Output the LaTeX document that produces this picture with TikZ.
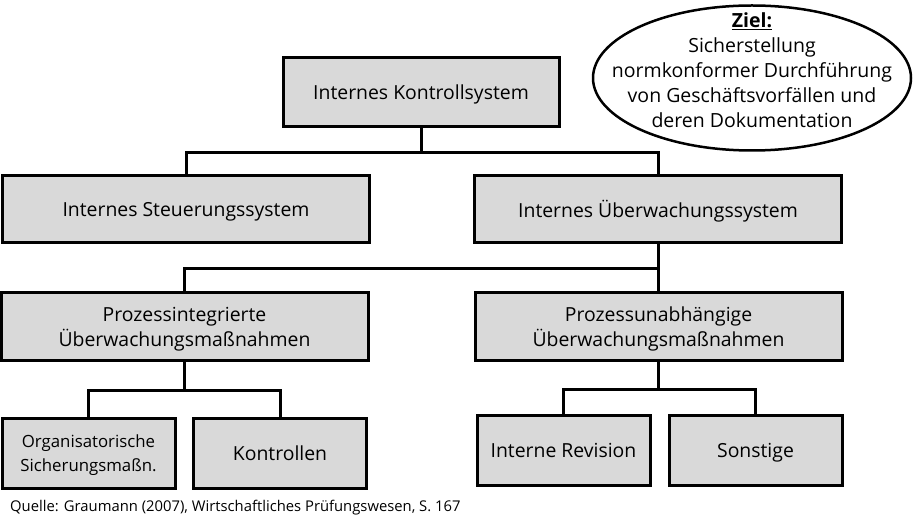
\documentclass[tikz,border=0pt]{standalone}
\usepackage{fontspec}
\setmainfont{Open Sans}
\usetikzlibrary{shapes.geometric}

\definecolor{boxgray}{HTML}{D9D9D9}
\tikzset{
  ebox/.style={draw, line width=3pt, fill=boxgray, align=center, inner sep=0pt,
    text depth=0pt, font=\fontsize{19.4}{25}\selectfont},
  wbox/.style={ebox, minimum width=367pt, minimum height=67pt},
  sbox/.style={ebox, minimum width=173pt, minimum height=69pt},
  link/.style={line width=3pt}
}

\begin{document}
\begin{tikzpicture}[line cap=rect,line join=miter,x=1pt,y=-1pt]
\useasboundingbox (0,0) rectangle (916,526);
% Kopf
\node[ebox, minimum width=276pt, minimum height=69pt] (iks) at (421,92.5) {Internes Kontrollsystem};
\node[draw, ellipse, line width=2.5pt, fill=white, minimum width=318pt, minimum height=145pt] (ziel) at (752,78) {};
\node[align=center, font=\fontsize{19.5}{25}\selectfont] (zieltext) at (752,70)
  {\underline{\textbf{Ziel:}}\\Sicherstellung\\normkonformer Durchführung\\von Geschäftsvorfällen und\\deren Dokumentation};
% zweite Ebene
\node[wbox] (ists) at (186,209) {Internes Steuerungssystem};
\node[wbox] (iues) at (658,209) {Internes Überwachungssystem};
% dritte Ebene
\node[wbox, minimum height=68pt] (pim) at (184.5,327) {Prozessintegrierte\\Überwachungsmaßnahmen};
\node[wbox, minimum height=68pt] (pum) at (658.5,327) {Prozessunabhängige\\Überwachungsmaßnahmen};
% vierte Ebene
\node[sbox, font=\fontsize{16.8}{24}\selectfont] (org) at (88.5,453.5) {Organisatorische\\Sicherungsmaßn.};
\node[sbox] (kon) at (280,453.5) {Kontrollen};
\node[sbox] (rev) at (563.5,450.5) {Interne Revision};
\node[sbox] (son) at (755.5,450.5) {Sonstige};
% Verbindungen
\draw[link] (iks.south) -- ++(0,24) coordinate (b1);
\draw[link] (b1) -| (ists.north);
\draw[link] (b1) -| (iues.north);
\draw[link] (iues.south) -- ++(0,25) coordinate (b2);
\draw[link] (b2) -| (pim.north);
\draw[link] (b2) -| (pum.north);
\draw[link] (pim.south) -- ++(0,28) coordinate (b3);
\draw[link] (b3) -| (org.north);
\draw[link] (b3) -| (kon.north);
\draw[link] (pum.south) -- ++(0,27) coordinate (b4);
\draw[link] (b4) -| (rev.north);
\draw[link] (b4) -| (son.north);
% Quelle
\node[anchor=west, inner sep=0pt, font=\fontsize{14.8}{17}\selectfont] (quelle) at (10,508)
  {Quelle: Graumann (2007), Wirtschaftliches Prüfungswesen, S. 167};
\end{tikzpicture}
\end{document}
